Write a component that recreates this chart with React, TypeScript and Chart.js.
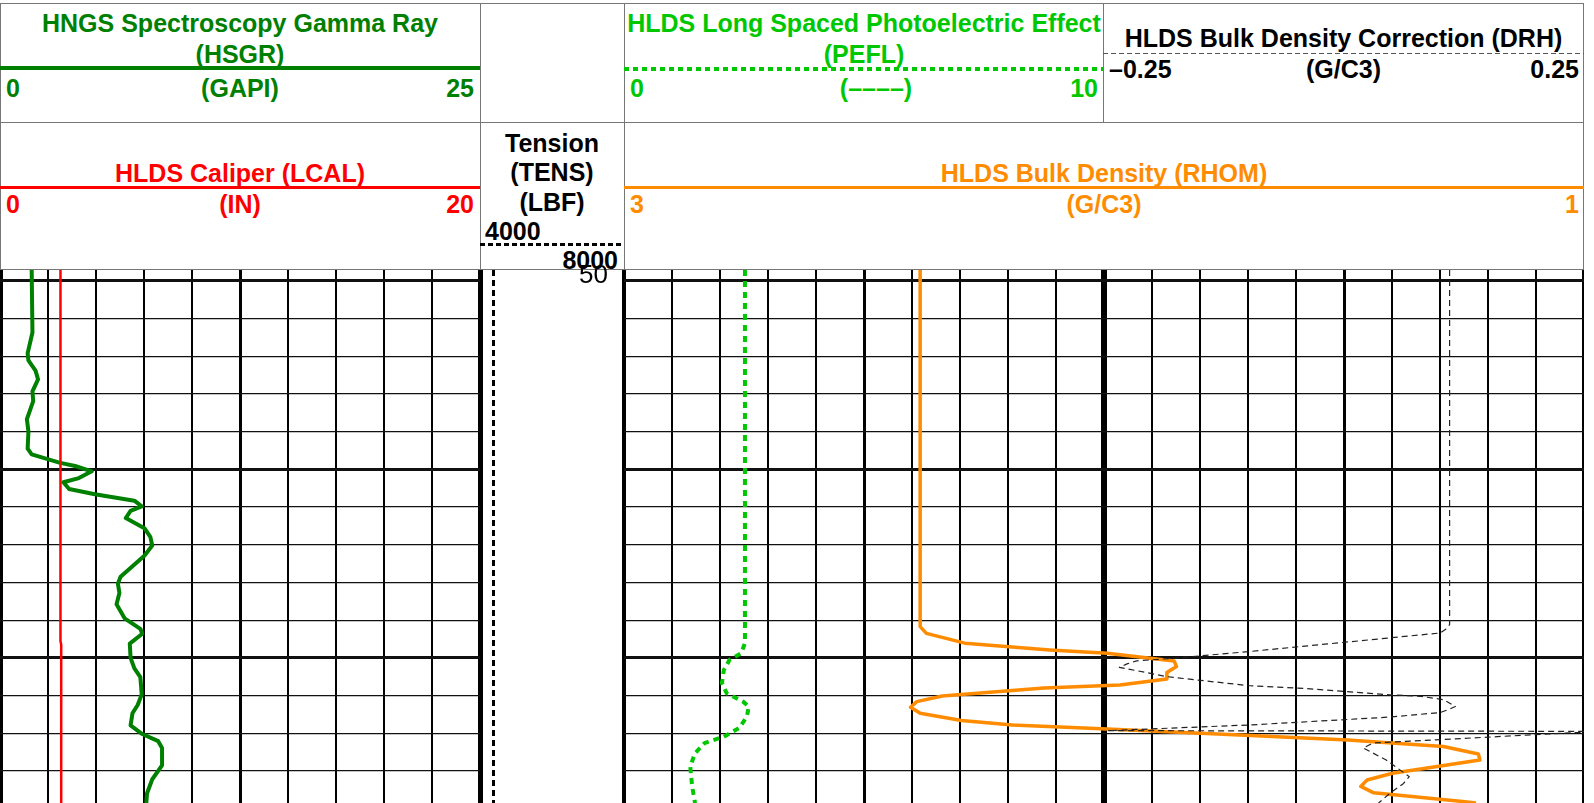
import React, { useEffect, useRef } from 'react';
import { Chart, registerables } from 'chart.js';

Chart.register(...registerables);

// ---------- depth window (visible interval) and depth labels ----------
const DEPTH_TOP = 49.71;
const DEPTH_BOTTOM = 63.85;
const DEPTH_LABELS = [50];

// ---------- curves (depth, value) ----------
const GR_DEPTH = [49.71, 51.37, 51.92, 52.11, 52.38, 52.61, 52.93, 53.19, 53.67, 53.99, 54.45, 54.6, 54.82, 54.91, 55.05, 55.23, 55.34, 55.52, 55.66, 55.83, 55.98, 56.1, 56.29, 56.56, 56.79, 57.02, 57.29, 57.85, 58.03, 58.28, 58.58, 58.95, 59.23, 59.36, 59.62, 60.0, 60.28, 60.51, 60.97, 61.25, 61.47, 61.79, 62.02, 62.21, 62.39, 62.85, 63.22, 63.59, 63.85];
const GR_VALUES = [1.65, 1.69, 1.44, 1.48, 1.85, 1.98, 1.69, 1.73, 1.4, 1.48, 1.44, 1.65, 3.09, 3.91, 4.78, 4.11, 3.3, 3.6, 4.94, 7.0, 7.38, 6.8, 6.55, 7.52, 7.83, 7.93, 7.52, 6.28, 6.14, 6.22, 6.07, 6.49, 7.31, 7.41, 6.76, 6.8, 7.0, 7.31, 7.38, 7.17, 6.9, 6.8, 7.41, 8.24, 8.44, 8.44, 7.93, 7.66, 7.62];

const CAL_DEPTH = [49.71, 59.55, 59.65, 63.85];
const CAL_VALUES = [2.52, 2.52, 2.55, 2.55];

const TENS_DEPTH = [49.71, 55.0, 60.0, 63.85];
const TENS_VALUES = [4375, 4375, 4375, 4375];

const PEF_DEPTH = [49.71, 59.61, 59.88, 60.05, 60.32, 60.67, 60.94, 61.16, 61.29, 61.56, 61.86, 62.09, 62.26, 62.53, 62.88, 63.41, 63.85];
const PEF_VALUES = [1.26, 1.26, 1.22, 1.1, 1.04, 1.02, 1.07, 1.24, 1.3, 1.28, 1.2, 1.04, 0.84, 0.74, 0.69, 0.71, 0.74];

const RHOB_DEPTH = [49.71, 59.17, 59.35, 59.61, 59.79, 59.88, 60.01, 60.08, 60.23, 60.39, 60.56, 60.72, 60.8, 61.01, 61.16, 61.31, 61.47, 61.66, 61.78, 61.89, 62.04, 62.18, 62.35, 62.55, 62.71, 62.88, 63.06, 63.24, 63.41, 63.58, 63.81, 63.85];
const RHOB_VALUES = [2.383, 2.383, 2.37, 2.29, 2.113, 1.993, 1.904, 1.854, 1.849, 1.869, 1.869, 1.967, 2.125, 2.337, 2.39, 2.403, 2.383, 2.297, 2.191, 1.993, 1.729, 1.492, 1.293, 1.22, 1.217, 1.306, 1.399, 1.452, 1.465, 1.438, 1.253, 1.225];

const DRH_DEPTH = [49.71, 59.12, 59.24, 59.34, 59.83, 60.01, 60.08, 60.16, 60.25, 60.5, 60.74, 60.8, 60.98, 61.02, 61.11, 61.29, 61.36, 61.45, 61.57, 61.78, 61.93, 61.95, 62.26, 62.39, 62.71, 63.15, 63.33, 63.59, 63.85];
const DRH_VALUES = [0.18, 0.18, 0.178, 0.175, 0.076, 0.036, 0.017, 0.012, 0.008, 0.033, 0.076, 0.101, 0.149, 0.165, 0.177, 0.183, 0.18, 0.175, 0.149, 0.076, 0.002, 0.258, 0.14, 0.135, 0.147, 0.159, 0.156, 0.149, 0.143];

// ---------- track scales (left value, right value) and header labels ----------
const GR_RANGE = [0, 25];
const CAL_RANGE = [0, 20];
const TENS_RANGE = [4000, 8000];
const PEF_RANGE = [0, 10];
const RHOB_RANGE = [3, 1];
const DRH_RANGE = [-0.25, 0.25];

const GR_TITLE = ['HNGS Spectroscopy Gamma Ray', '(HSGR)'];
const GR_SCALE = ['0', '(GAPI)', '25'];
const CAL_TITLE = 'HLDS Caliper (LCAL)';
const CAL_SCALE = ['0', '(IN)', '20'];
const TENS_TITLE = ['Tension', '(TENS)', '(LBF)'];
const TENS_SCALE = ['4000', '8000'];
const PEF_TITLE = ['HLDS Long Spaced Photoelectric Effect', '(PEFL)'];
const PEF_SCALE = ['0', '(\u2013\u2013\u2013\u2013)', '10'];
const DRH_TITLE = 'HLDS Bulk Density Correction (DRH)';
const DRH_SCALE = ['\u20130.25', '(G/C3)', '0.25'];
const RHOB_TITLE = 'HLDS Bulk Density (RHOM)';
const RHOB_SCALE = ['3', '(G/C3)', '1'];

// ---------- styles ----------
const FONT = '"Liberation Sans", Arial, Helvetica, sans-serif';
const C_GR = '#008000';
const C_CAL = '#ff0000';
const C_PEF = '#00c800';
const C_RHOB = '#ff8c00';
const C_DRH = '#222222';
const C_TENS = '#000000';
const C_BORDER = '#777777';

const pts = (d: number[], v: number[]) => d.map((y, i) => ({ x: v[i], y }));

function gridScale(n: number, widthFn: (v: number) => number) {
  return {
    type: 'linear', axis: 'x', position: 'top', min: 0, max: n, display: true,
    ticks: { display: false }, border: { display: false },
    grid: { drawTicks: false, color: '#000', lineWidth: (c: any) => widthFn(c.tick ? c.tick.value : 0) },
    afterBuildTicks: (s: any) => { const t: any[] = []; for (let i = 0; i <= n; i++) t.push({ value: i }); s.ticks = t; },
  };
}

function depthScale(showGrid: boolean) {
  return {
    type: 'linear', axis: 'y', position: 'left', reverse: true, min: DEPTH_TOP, max: DEPTH_BOTTOM,
    display: showGrid, ticks: { display: false }, border: { display: false },
    grid: {
      drawTicks: false, color: '#111',
      lineWidth: (c: any) => (c.tick && Math.round(c.tick.value) % 5 === 0 ? 3 : 1.3),
    },
    afterBuildTicks: (s: any) => {
      const t: any[] = [];
      for (let v = Math.ceil(DEPTH_TOP); v <= DEPTH_BOTTOM; v++) t.push({ value: v });
      s.ticks = t;
    },
  };
}

function valueScale(range: number[]) {
  return {
    type: 'linear', axis: 'x', display: false,
    min: Math.min(range[0], range[1]), max: Math.max(range[0], range[1]),
    reverse: range[0] > range[1],
  };
}

function curve(d: number[], v: number[], xAxisID: string, color: string, width: number, dash: number[] = []) {
  return {
    data: pts(d, v), xAxisID, yAxisID: 'y', showLine: true,
    borderColor: color, backgroundColor: color, borderWidth: width, borderDash: dash,
    pointRadius: 0, pointHoverRadius: 0, tension: 0, fill: false,
    borderCapStyle: 'butt', borderJoinStyle: 'round',
  };
}

const depthLabelPlugin = {
  id: 'depthLabels',
  afterDraw(chart: any) {
    const y = chart.scales.y;
    const ctx = chart.ctx;
    ctx.save();
    ctx.font = '26px ' + FONT;
    ctx.fillStyle = '#000';
    ctx.textAlign = 'right';
    ctx.textBaseline = 'alphabetic';
    DEPTH_LABELS.forEach((v) => {
      ctx.fillText(String(v), chart.chartArea.right - 16, y.getPixelForValue(v) + 2);
    });
    ctx.restore();
  },
};

function baseOptions(scales: any, padTop = 0) {
  return {
    responsive: false, animation: false, devicePixelRatio: 1, events: [],
    layout: { padding: { top: padTop, left: 0, right: 0, bottom: 0 } },
    plugins: { legend: { display: false }, tooltip: { enabled: false }, title: { display: false } },
    scales,
  };
}

function Txt({ x, b, align = 'center', color = '#000', size = 25, bold = true, children }: any) {
  const tr = align === 'center' ? 'translateX(-50%)' : align === 'right' ? 'translateX(-100%)' : 'none';
  return (
    <div style={{
      position: 'absolute', left: x, top: b - 0.8465 * size, fontSize: size, lineHeight: `${size}px`,
      fontWeight: bold ? 700 : 400, color, whiteSpace: 'nowrap', transform: tr, fontFamily: FONT,
    }}>{children}</div>
  );
}

function HLine({ x1, x2, y, w = 1, color = C_BORDER, pattern }: any) {
  const bg = pattern
    ? `repeating-linear-gradient(to right, ${color} 0px, ${color} ${pattern[0]}px, transparent ${pattern[0]}px, transparent ${pattern[0] + pattern[1]}px)`
    : color;
  return <div style={{ position: 'absolute', left: x1, width: x2 - x1, top: y - w / 2, height: w, background: bg }} />;
}

function VLine({ x, y1, y2, w = 1, color = C_BORDER }: any) {
  return <div style={{ position: 'absolute', left: x - w / 2, width: w, top: y1, height: y2 - y1, background: color }} />;
}

export default function App() {
  const leftRef = useRef<HTMLCanvasElement>(null);
  const tensRef = useRef<HTMLCanvasElement>(null);
  const rightRef = useRef<HTMLCanvasElement>(null);

  useEffect(() => {
    const charts: Chart[] = [];
    if (leftRef.current) {
      charts.push(new Chart(leftRef.current, {
        type: 'scatter',
        data: {
          datasets: [
            curve(CAL_DEPTH, CAL_VALUES, 'xCAL', C_CAL, 2.5),
            curve(GR_DEPTH, GR_VALUES, 'xGR', C_GR, 4),
          ] as any,
        },
        options: baseOptions({
          gx: gridScale(10, (v) => (v === 0 || v === 10 ? 5 : v === 5 ? 3 : 2)),
          y: depthScale(true),
          xGR: valueScale(GR_RANGE),
          xCAL: valueScale(CAL_RANGE),
        }) as any,
      }));
    }
    if (tensRef.current) {
      charts.push(new Chart(tensRef.current, {
        type: 'scatter',
        data: { datasets: [curve(TENS_DEPTH, TENS_VALUES, 'xTENS', C_TENS, 3, [6, 4])] as any },
        options: baseOptions({
          xTENS: {
            type: 'linear', axis: 'x', position: 'top', min: TENS_RANGE[0], max: TENS_RANGE[1], display: true,
            ticks: { display: false }, border: { display: false },
            grid: { drawTicks: false, color: '#000', lineWidth: (c: any) => (c.tick && c.tick.value === TENS_RANGE[0] ? 5 : 4) },
            afterBuildTicks: (s: any) => { s.ticks = TENS_RANGE.map((v) => ({ value: v })); },
          },
          y: depthScale(false),
        }, 14) as any,
        plugins: [depthLabelPlugin],
      }));
    }
    if (rightRef.current) {
      charts.push(new Chart(rightRef.current, {
        type: 'scatter',
        data: {
          datasets: [
            curve(DRH_DEPTH, DRH_VALUES, 'xDRH', C_DRH, 1.2, [6, 4]),
            curve(PEF_DEPTH, PEF_VALUES, 'xPEF', C_PEF, 4, [6, 5]),
            curve(RHOB_DEPTH, RHOB_VALUES, 'xRHOB', C_RHOB, 3.5),
          ] as any,
        },
        options: baseOptions({
          gx: gridScale(20, (v) => (v === 0 ? 4 : v === 20 ? 5 : v === 10 ? 6 : v === 5 || v === 15 ? 3 : 2)),
          y: depthScale(true),
          xPEF: valueScale(PEF_RANGE),
          xRHOB: valueScale(RHOB_RANGE),
          xDRH: valueScale(DRH_RANGE),
        }) as any,
      }));
    }
    return () => charts.forEach((c) => c.destroy());
  }, []);

  return (
    <div style={{ position: 'fixed', left: 0, top: 0, width: 1594, height: 803, background: '#fff', overflow: 'hidden', fontFamily: FONT }}>
      {/* header cell borders */}
      <HLine x1={0} x2={1584} y={3.5} />
      <HLine x1={0} x2={1584} y={122} />
      <HLine x1={0} x2={1584} y={269.5} />
      <VLine x={0.5} y1={3} y2={270} />
      <VLine x={480} y1={3} y2={270} />
      <VLine x={624} y1={3} y2={270} />
      <VLine x={1103} y1={3} y2={122} />
      <VLine x={1583.5} y1={3} y2={270} />

      {/* Gamma ray */}
      <Txt x={240} b={31.7} color={C_GR}>{GR_TITLE[0]}</Txt>
      <Txt x={240} b={63.3} color={C_GR}>{GR_TITLE[1]}</Txt>
      <HLine x1={0} x2={480} y={68.3} w={4} color={C_GR} />
      <Txt x={6} b={96.7} align="left" color={C_GR}>{GR_SCALE[0]}</Txt>
      <Txt x={240} b={96.7} color={C_GR}>{GR_SCALE[1]}</Txt>
      <Txt x={474} b={96.7} align="right" color={C_GR}>{GR_SCALE[2]}</Txt>

      {/* PEF */}
      <Txt x={864} b={31.7} color={C_PEF}>{PEF_TITLE[0]}</Txt>
      <Txt x={864} b={63.3} color={C_PEF}>{PEF_TITLE[1]}</Txt>
      <HLine x1={624} x2={1103} y={68.5} w={4} color={C_PEF} pattern={[5, 4]} />
      <Txt x={630} b={96.7} align="left" color={C_PEF}>{PEF_SCALE[0]}</Txt>
      <Txt x={876} b={96.7} color={C_PEF}>{PEF_SCALE[1]}</Txt>
      <Txt x={1098} b={96.7} align="right" color={C_PEF}>{PEF_SCALE[2]}</Txt>

      {/* DRH */}
      <Txt x={1343.5} b={46.7}>{DRH_TITLE}</Txt>
      <HLine x1={1103} x2={1584} y={53.3} w={1} color="#555" pattern={[5, 3]} />
      <Txt x={1109} b={78.3} align="left">{DRH_SCALE[0]}</Txt>
      <Txt x={1343.5} b={78.3}>{DRH_SCALE[1]}</Txt>
      <Txt x={1579} b={78.3} align="right">{DRH_SCALE[2]}</Txt>

      {/* Caliper */}
      <Txt x={240} b={181.7} color={C_CAL}>{CAL_TITLE}</Txt>
      <HLine x1={0} x2={480} y={187.3} w={3} color={C_CAL} />
      <Txt x={6} b={213} align="left" color={C_CAL}>{CAL_SCALE[0]}</Txt>
      <Txt x={240} b={213} color={C_CAL}>{CAL_SCALE[1]}</Txt>
      <Txt x={474} b={213} align="right" color={C_CAL}>{CAL_SCALE[2]}</Txt>

      {/* Tension */}
      <Txt x={552} b={152}>{TENS_TITLE[0]}</Txt>
      <Txt x={552} b={181.5}>{TENS_TITLE[1]}</Txt>
      <Txt x={552} b={211}>{TENS_TITLE[2]}</Txt>
      <Txt x={485} b={240} align="left">{TENS_SCALE[0]}</Txt>
      <HLine x1={480} x2={624} y={244.3} w={2.5} color="#000" pattern={[5, 3]} />
      <Txt x={618} b={269} align="right">{TENS_SCALE[1]}</Txt>

      {/* RHOB */}
      <Txt x={1104} b={181.7} color={C_RHOB}>{RHOB_TITLE}</Txt>
      <HLine x1={624} x2={1584} y={187.3} w={3} color={C_RHOB} />
      <Txt x={630} b={213} align="left" color={C_RHOB}>{RHOB_SCALE[0]}</Txt>
      <Txt x={1104} b={213} color={C_RHOB}>{RHOB_SCALE[1]}</Txt>
      <Txt x={1579} b={213} align="right" color={C_RHOB}>{RHOB_SCALE[2]}</Txt>

      {/* tracks */}
      <canvas ref={leftRef} width={480} height={533} style={{ position: 'absolute', left: 0, top: 270 }} />
      <canvas ref={tensRef} width={144} height={547} style={{ position: 'absolute', left: 480, top: 256 }} />
      <canvas ref={rightRef} width={960} height={533} style={{ position: 'absolute', left: 624, top: 270 }} />
    </div>
  );
}
